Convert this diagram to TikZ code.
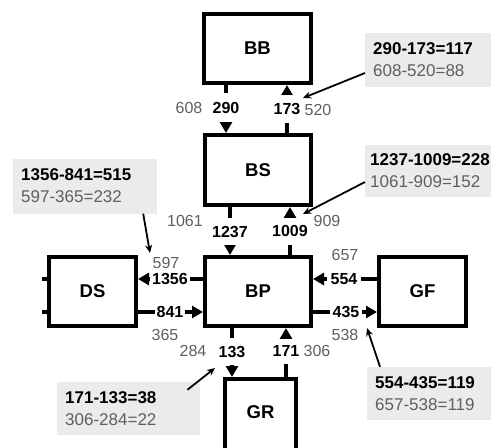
\documentclass[tikz,border=0pt]{standalone}
\usepackage{fontspec}
\setmainfont{Liberation Sans}
\usetikzlibrary{arrows.meta}
\definecolor{numgray}{RGB}{95,95,95}
\definecolor{notefill}{RGB}{235,235,235}
\begin{document}
\begin{tikzpicture}[x=1pt,y=-1pt,
 box/.style={draw,line width=4pt,inner sep=0pt,font=\fontsize{18.5}{20}\selectfont\bfseries},
 conn/.style={line width=3.5pt,-{Triangle[length=11pt,width=12pt]}},
 stub/.style={line width=3.5pt},
 flow/.style={fill=white,inner sep=0pt,font=\fontsize{16}{17}\selectfont\bfseries},
 gnum/.style={inner sep=0pt,text=numgray,font=\fontsize{16}{17}\selectfont},
 note/.style={fill=notefill,anchor=west,inner xsep=8pt,inner ysep=0pt,align=left,font=\fontsize{17}{22}\selectfont},
 pointer/.style={line width=1.8pt,-{Stealth[length=8pt,width=7pt]}}]
\useasboundingbox (0,0) rectangle (491,448);
% boxes
\node[box,minimum width=107pt,minimum height=69pt] (BB) at (257.5,48.5) {BB};
\node[box,minimum width=106pt,minimum height=70pt] (BS) at (258,170) {BS};
\node[box,minimum width=106pt,minimum height=69pt] (BP) at (258,291.5) {BP};
\node[box,minimum width=87pt,minimum height=69pt] (DS) at (92.5,291.5) {DS};
\node[box,minimum width=87pt,minimum height=69pt] (GF) at (422.5,291.5) {GF};
\node[box,minimum width=71pt,minimum height=100pt,anchor=north] (GR) at (260.5,377) {};
\node[inner sep=0pt,font=\fontsize{18.5}{20}\selectfont\bfseries] (GRt) at (260.5,412) {GR};
% guide coordinates
\coordinate (v1) at (226,0);
\coordinate (v2) at (287,0);
\coordinate (v3) at (230,0);
\coordinate (v4) at (290,0);
\coordinate (v5) at (232,0);
\coordinate (v6) at (286,0);
\coordinate (h1) at (0,279);
\coordinate (h2) at (0,312);
\coordinate (e1) at (42,279);
\coordinate (e2) at (42,312);
% connectors
\draw[conn] (BB.south -| v1) -- (BS.north -| v1);
\draw[conn] (BS.north -| v2) -- (BB.south -| v2);
\draw[conn] (BS.south -| v3) -- (BP.north -| v3);
\draw[conn] (BP.north -| v4) -- (BS.south -| v4);
\draw[conn] (BP.south -| v5) -- (GR.north -| v5);
\draw[conn] (GR.north -| v6) -- (BP.south -| v6);
\draw[conn] (BP.west |- h1) -- (DS.east |- h1);
\draw[conn] (DS.east |- h2) -- (BP.west |- h2);
\draw[conn] (GF.west |- h1) -- (BP.east |- h1);
\draw[conn] (BP.east |- h2) -- (GF.west |- h2);
\draw[stub] (DS.west |- e1) -- (e1);
\draw[stub] (DS.west |- e2) -- (e2);
% flow labels
\node[flow,minimum width=28pt,minimum height=29pt] (f290) at (226,107.5) {290};
\node[flow,minimum width=28pt,minimum height=28pt] (f173) at (287,109) {173};
\node[flow,minimum width=38pt,minimum height=27pt] (f1237) at (230,231.5) {1237};
\node[flow,minimum width=38pt,minimum height=27pt] (f1009) at (290,231) {1009};
\node[flow,minimum width=28pt,minimum height=27pt] (f133) at (232,351.5) {133};
\node[flow,minimum width=28pt,minimum height=25pt] (f171) at (286,351) {171};
\node[flow,minimum width=40pt,minimum height=16pt] (f1356) at (170,279) {1356};
\node[flow,minimum width=30pt,minimum height=16pt] (f841) at (170,312) {841};
\node[flow,minimum width=34pt,minimum height=16pt] (f554) at (344,279) {554};
\node[flow,minimum width=32pt,minimum height=16pt] (f435) at (346,312) {435};
% gray numbers
\node[gnum] (g608) at (189,108) {608};
\node[gnum] (g520) at (318,110) {520};
\node[gnum] (g1061) at (185,221) {1061};
\node[gnum] (g909) at (327,221) {909};
\node[gnum] (g597) at (166,263) {597};
\node[gnum] (g365) at (165,335) {365};
\node[gnum] (g657) at (345,255) {657};
\node[gnum] (g538) at (345,335) {538};
\node[gnum] (g284) at (193,351) {284};
\node[gnum] (g306) at (317,351) {306};
% notes
\node[note,minimum width=140pt,minimum height=54pt,text width=124pt] (n1) at (365,60) {\textbf{290-173=117}\\\textcolor{numgray}{608-520=88}};
\node[note,minimum width=140pt,minimum height=52pt,text width=130pt,inner xsep=5pt] (n2) at (365,171) {\textbf{1237-1009=228}\\\textcolor{numgray}{1061-909=152}};
\node[note,minimum width=144pt,minimum height=55pt,text width=128pt] (n3) at (13,186) {\textbf{1356-841=515}\\\textcolor{numgray}{597-365=232}};
\node[note,minimum width=135pt,minimum height=53pt,text width=119pt] (n4) at (367,393.5) {\textbf{554-435=119}\\\textcolor{numgray}{657-538=119}};
\node[note,minimum width=143pt,minimum height=53pt,text width=127pt] (n5) at (57,408.5) {\textbf{171-133=38}\\\textcolor{numgray}{306-284=22}};
% pointers
\coordinate (t1) at (303,98);
\coordinate (t2) at (303,214);
\coordinate (t3) at (150,253);
\coordinate (t4) at (367,328);
\coordinate (t5) at (215,368);
\draw[pointer] ([yshift=-13pt]n1.west) -- (t1);
\draw[pointer] ([yshift=-11pt]n2.west) -- (t2);
\draw[pointer] ([xshift=58pt]n3.south) -- (t3);
\draw[pointer] ([xshift=13pt]n4.north west) -- (t4);
\draw[pointer] ([xshift=-13pt,yshift=-8pt]n5.north east) -- (t5);
\end{tikzpicture}
\end{document}
